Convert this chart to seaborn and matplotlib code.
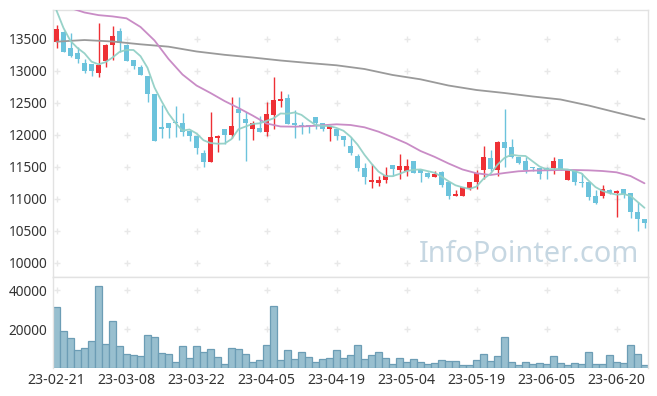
import numpy as np
import pandas as pd
import matplotlib
matplotlib.use("Agg")
import matplotlib.pyplot as plt
import seaborn as sns

# ---------------- data ----------------
tick_labels = ["23-02-21", "23-03-08", "23-03-22", "23-04-05", "23-04-19",
               "23-05-04", "23-05-19", "23-06-05", "23-06-20"]
tick_index = [0, 10, 20, 30, 40, 50, 60, 70, 80]

opens = [13460, 13610, 13360, 13280, 13120, 13110, 12970, 13150, 13400, 13620,
         13410, 13170, 13060, 12920, 12640, 12120, 12180, 12210, 12180, 12060,
         11980, 11720, 11580, 11960, 12090, 12000, 12400, 12250, 12100, 12110,
         12050, 12310, 12530, 12580, 12190, 12160, 12150, 12280, 12180, 12100,
         12090, 11980, 11830, 11670, 11480, 11260, 11250, 11290, 11530, 11450,
         11430, 11590, 11460, 11400, 11340, 11420, 11270, 11040, 11050, 11170,
         11260, 11450, 11640, 11450, 11890, 11810, 11650, 11590, 11490, 11480,
         11480, 11480, 11620, 11290, 11450, 11270, 11260, 11050, 11040, 11140,
         11090, 11150, 11090, 10790, 10680]
closes = [13650, 13300, 13240, 13190, 13000, 13000, 13090, 13410, 13550, 13440,
          13160, 13080, 12930, 12640, 11900, 12100, 12110, 12190, 12040, 11990,
          11790, 11580, 11970, 11990, 12000, 12140, 12350, 12180, 12190, 12050,
          12330, 12550, 12560, 12170, 12150, 12140, 12140, 12180, 12100, 12140,
          11990, 11920, 11720, 11480, 11340, 11300, 11300, 11370, 11470, 11520,
          11520, 11400, 11400, 11340, 11390, 11220, 11040, 11080, 11180, 11270,
          11400, 11650, 11470, 11890, 11800, 11650, 11570, 11450, 11480, 11390,
          11430, 11590, 11450, 11450, 11260, 11250, 11030, 10940, 11150, 11090,
          11130, 11080, 10790, 10690, 10620]
highs = [13720, 13620, 13590, 13380, 13180, 13110, 13750, 13420, 13700, 13670,
         13420, 13170, 13090, 12920, 12640, 12470, 12190, 12460, 12350, 12060,
         11980, 11770, 12360, 12000, 12090, 12600, 12600, 12360, 12220, 12290,
         12520, 12900, 12680, 12640, 12390, 12210, 12160, 12280, 12180, 12140,
         12090, 11980, 11970, 11710, 11560, 11540, 11360, 11500, 11530, 11710,
         11620, 11590, 11470, 11420, 11430, 11440, 11270, 11140, 11180, 11270,
         11460, 11830, 11770, 11910, 12400, 11930, 11650, 11660, 11500, 11480,
         11500, 11650, 11620, 11450, 11450, 11400, 11260, 11140, 11220, 11150,
         11140, 11150, 11090, 10960, 10680]
lows = [13360, 13290, 13220, 13120, 12970, 12920, 12900, 13070, 13170, 13290,
        13160, 13030, 12930, 12520, 11900, 11950, 11950, 11970, 11980, 11910,
        11700, 11500, 11580, 11730, 11860, 11950, 11920, 11600, 11920, 12050,
        11980, 12100, 12440, 12170, 11950, 12020, 12030, 12100, 12070, 11910,
        11920, 11830, 11690, 11440, 11230, 11170, 11200, 11250, 11360, 11310,
        11360, 11400, 11270, 11330, 11340, 11180, 11000, 11040, 11040, 11140,
        11150, 11320, 11430, 11360, 11500, 11640, 11550, 11410, 11430, 11310,
        11310, 11390, 11450, 11290, 11220, 11190, 10980, 10920, 11010, 11080,
        10720, 11010, 10700, 10500, 10540]
volumes = [31390, 18960, 15330, 9120, 10150, 13780, 42270, 12220, 24140, 11190,
           7050, 6530, 6400, 16890, 15850, 7560, 7050, 2900, 11190, 4970,
           11190, 8080, 9630, 5490, 1870, 10150, 9630, 7050, 2900, 3940,
           11710, 31900, 3940, 9120, 4460, 8080, 5490, 2900, 4460, 4970,
           9120, 4970, 6530, 11710, 4460, 6530, 8080, 4970, 1870, 4970,
           2900, 4460, 2900, 1870, 2380, 3940, 3420, 3420, 1350, 1350,
           3940, 7050, 3420, 6010, 15850, 2900, 1350, 2900, 1870, 2380,
           1870, 6010, 2380, 1350, 2380, 1870, 8080, 1870, 1870, 6530,
           2900, 2380, 11710, 7050, 1350]

# 5-day MA: first four values, rest from closes
ma5_head = [13945, 13672, 13469, 13359]
# 20-day and 120-day MA at sample indices
ma20_index = list(range(0, 85, 2))
ma20_values = [14050, 13984, 13914, 13873, 13853, 13823, 13688, 13477, 13188, 12945,
               12773, 12656, 12531, 12422, 12305, 12180, 12133, 12130, 12138, 12152,
               12167, 12156, 12120, 12052, 11964, 11870, 11750, 11659, 11555, 11461,
               11402, 11375, 11406, 11433, 11443, 11448, 11453, 11453, 11448, 11437,
               11417, 11359, 11245]
ma120_index = list(range(0, 85, 4))
ma120_values = [13458, 13484, 13461, 13417, 13380, 13305, 13253, 13211, 13164, 13125,
                13089, 13031, 12938, 12870, 12773, 12703, 12656, 12602, 12555, 12461,
                12352, 12245]

price_ticks = [10000, 10500, 11000, 11500, 12000, 12500, 13000, 13500]
volume_ticks = [20000, 40000]

# ---------------- style ----------------
sns.set_theme(style="white")
plt.rcParams["font.family"] = ["Noto Sans", "DejaVu Sans"]

UP = "#ee3035"
DOWN = "#6cc3dc"
GRID = "#e8e8e8"
TXT = "#333333"

n = len(closes)
idx = np.arange(n)
df = pd.DataFrame({"i": idx, "open": opens, "close": closes, "high": highs,
                   "low": lows, "volume": volumes})
ma5 = df["close"].rolling(5).mean().to_numpy()
ma5[:4] = ma5_head
df["ma5"] = ma5

fig = plt.figure(figsize=(6.57, 3.96), dpi=100)
axp = fig.add_axes([53 / 657, 1 - 277 / 396, 595 / 657, 267 / 396])
axv = fig.add_axes([53 / 657, 1 - 367.9 / 396, 595 / 657, 90.9 / 396])

# ----- price panel -----
up = df["close"] >= df["open"]
cols = np.where(up, UP, DOWN)
axp.vlines(df["i"], df["low"], df["high"], colors=cols, lw=1.0, zorder=2)
body_bottom = np.minimum(df["open"], df["close"])
body_h = np.maximum(np.abs(df["close"] - df["open"]), 14)
axp.bar(df["i"], body_h, bottom=body_bottom, width=0.66, color=cols,
        linewidth=0, zorder=3)

sns.lineplot(x=ma120_index, y=ma120_values, ax=axp, color="#9a9a9a", lw=1.3, zorder=4)
sns.lineplot(x=ma20_index, y=ma20_values, ax=axp, color="#c98cc6", lw=1.3, zorder=4)
sns.lineplot(data=df, x="i", y="ma5", ax=axp, color="#93d0c6", lw=1.3, zorder=5, alpha=0.95)

axp.set_xlim(-0.5, 84.5)
axp.set_ylim(9781, 13953)
axp.set_yticks(price_ticks)
axp.set_yticklabels([str(t) for t in price_ticks])
axp.set_xticks(tick_index)
axp.set_xticklabels([])
axp.set_xlabel("")
axp.set_ylabel("")

gx, gy = np.meshgrid(tick_index, price_ticks)
axp.plot(gx.ravel(), gy.ravel(), linestyle="none", marker="+", color=GRID,
         markersize=4.5, mew=1.0, zorder=1)

axp.text(0.80, 0.085, "InfoPointer.com", transform=axp.transAxes, ha="center",
         va="center", fontsize=20.8, color="#c6d7e2", zorder=0)

# ----- volume panel -----
sns.barplot(data=df, x="i", y="volume", ax=axv, color="#98bfcf", width=1.0,
            edgecolor="#6c9db5", linewidth=0.9, saturation=1, zorder=2)
axv.set_xlim(-0.5, 84.5)
axv.set_ylim(0, 46930)
axv.set_yticks(volume_ticks)
axv.set_yticklabels([str(t) for t in volume_ticks])
axv.set_xticks(tick_index)
axv.set_xticklabels(tick_labels)
axv.set_xlabel("")
axv.set_ylabel("")
vx, vy = np.meshgrid(tick_index, volume_ticks)
axv.plot(vx.ravel(), vy.ravel(), linestyle="none", marker="+", color=GRID,
         markersize=4.5, mew=1.0, zorder=1)

for ax in (axp, axv):
    ax.set_facecolor("white")
    for s in ax.spines.values():
        s.set_color("#e2e2e2")
        s.set_linewidth(1.0)
    ax.tick_params(axis="y", length=0, labelsize=9.8, colors=TXT, pad=4)
    ax.tick_params(axis="x", length=0, labelsize=10.2, colors=TXT, pad=4)
axv.spines["bottom"].set_visible(False)

fig.savefig("out.png", dpi=100, facecolor="white")
